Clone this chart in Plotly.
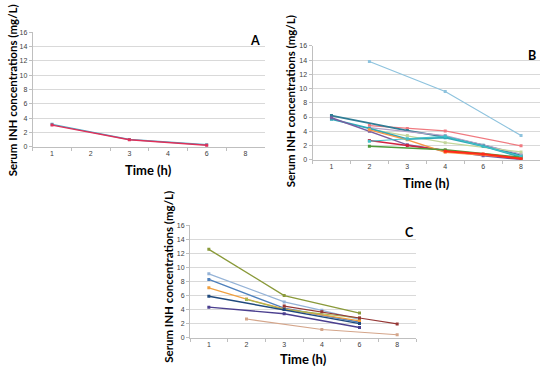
import plotly.graph_objects as go

categories = ["1", "2", "3", "4", "6", "8"]
y_ticks = [0, 2, 4, 6, 8, 10, 12, 14, 16]

# Panel A series
a_series = [
    {"name": "A1", "x": ["1", "3", "6"], "y": [3.15, 1.05, 0.3], "color": "#4bacc6", "w": 1.4},
    {"name": "A2", "x": ["1", "3", "6"], "y": [3.05, 1.0, 0.25], "color": "#e0305a", "w": 1.4},
]

# Panel B series
b_series = [
    {"name": "B1", "x": ["2", "4", "8"], "y": [13.8, 9.6, 3.4], "color": "#8ec3de", "w": 1.2},
    {"name": "B2", "x": ["2", "3", "4", "8"], "y": [4.8, 4.4, 4.05, 1.95], "color": "#f07a80", "w": 1.2},
    {"name": "B3", "x": ["1", "3", "4", "6", "8"], "y": [6.2, 4.1, 3.2, 2.05, 0.6], "color": "#2f7d95", "w": 1.8},
    {"name": "B4", "x": ["2", "4", "8"], "y": [4.5, 3.4, 0.8], "color": "#b3a2c7", "w": 1.2},
    {"name": "B5", "x": ["2", "3", "4", "8"], "y": [4.3, 3.4, 2.4, 1.1], "color": "#c3d69b", "w": 1.2},
    {"name": "B6", "x": ["1", "2", "3", "4", "6", "8"], "y": [5.7, 4.4, 2.9, 3.1, 1.9, 0.4], "color": "#31a8b8", "w": 1.8},
    {"name": "B7", "x": ["1", "2", "3", "4", "6", "8"], "y": [5.9, 4.0, 2.1, 1.3, 0.55, 0.0], "color": "#7a5ea0", "w": 1.4},
    {"name": "B8", "x": ["2", "3", "4", "8"], "y": [2.7, 2.0, 1.3, 0.1], "color": "#d02040", "w": 1.4},
    {"name": "B9", "x": ["2", "3", "4", "8"], "y": [4.2, 2.8, 1.05, 0.25], "color": "#f79646", "w": 1.4},
    {"name": "B10", "x": ["2", "4", "8"], "y": [1.9, 1.4, 0.35], "color": "#4f9a3a", "w": 1.4},
    {"name": "B11", "x": ["2", "3", "4", "8"], "y": [2.6, 2.9, 3.3, 0.5], "color": "#40c0c8", "w": 1.2},
    {"name": "B12", "x": ["4", "6", "8"], "y": [1.2, 0.8, 0.15], "color": "#ff2a1a", "w": 2.0},
]

# Panel C series
c_series = [
    {"name": "C1", "x": ["1", "3", "6"], "y": [12.6, 6.0, 3.5], "color": "#8a9a3a", "w": 1.4},
    {"name": "C2", "x": ["1", "3", "4", "6"], "y": [9.1, 5.1, 3.9, 2.6], "color": "#95b3d7", "w": 1.2},
    {"name": "C3", "x": ["1", "3", "6"], "y": [8.3, 4.2, 2.2], "color": "#4f81bd", "w": 1.4},
    {"name": "C4", "x": ["1", "2", "3", "6"], "y": [7.1, 5.5, 4.1, 2.4], "color": "#f0a040", "w": 1.2},
    {"name": "C5", "x": ["2", "3", "6"], "y": [5.45, 4.0, 2.8], "color": "#a8b850", "w": 1.2},
    {"name": "C6", "x": ["1", "3", "6"], "y": [5.9, 4.0, 2.0], "color": "#1f497d", "w": 1.4},
    {"name": "C7", "x": ["1", "3", "6"], "y": [4.35, 3.4, 1.45], "color": "#4b3f8f", "w": 1.4},
    {"name": "C8", "x": ["2", "4", "8"], "y": [2.65, 1.15, 0.42], "color": "#d4a58a", "w": 1.1},
    {"name": "C9", "x": ["3", "4", "6", "8"], "y": [4.5, 3.7, 2.8, 1.95], "color": "#953735", "w": 1.2},
]

W, H = 550, 374

def px_x(p):
    return p / W

def px_y(p):
    return (H - p) / H

panels = [
    (a_series, (32.7, 264.7), (28.7, 145.7), "A", (255, 37), 12, 88, 169),
    (b_series, (312.5, 540), (42.7, 158.7), "B", (532, 52), 290, 99, 182),
    (c_series, (190, 416), (225.7, 340), "C", (409, 233), 169, 278, 362),
]

fig = go.Figure()
annotations = []
for i, (series, xd, yd, letter, lpos, ytx, yty, xty) in enumerate(panels):
    idx = "" if i == 0 else str(i + 1)
    xa = "x" + idx
    ya = "y" + idx
    for s in series:
        fig.add_trace(go.Scatter(
            x=s["x"], y=s["y"], mode="lines+markers", name=s["name"],
            line=dict(color=s["color"], width=s["w"]),
            marker=dict(color=s["color"], size=3, symbol="square"),
            xaxis=xa, yaxis=ya, showlegend=False,
        ))
    axis_x = dict(
        domain=[px_x(xd[0]), px_x(xd[1])], anchor=ya,
        type="category", categoryorder="array", categoryarray=categories,
        range=[-0.5, 5.5], tickson="boundaries", ticks="outside", ticklen=3,
        tickcolor="#bfbfbf", showline=True, linecolor="#bfbfbf", linewidth=1,
        showgrid=False, tickfont=dict(family="Liberation Sans", size=7, color="#404040"),
        fixedrange=True,
    )
    axis_y = dict(
        domain=[px_y(yd[1]), px_y(yd[0])], anchor=xa,
        range=[0, 16], tickvals=y_ticks, ticks="outside", ticklen=3,
        tickcolor="#bfbfbf", showline=True, linecolor="#bfbfbf", linewidth=1,
        showgrid=True, gridcolor="#d9d9d9", gridwidth=1, zeroline=False,
        tickfont=dict(family="Liberation Sans", size=7, color="#404040"),
        fixedrange=True,
    )
    fig.layout["xaxis" + idx] = axis_x
    fig.layout["yaxis" + idx] = axis_y
    annotations.append(dict(
        text="<b>" + letter + "</b>", x=px_x(lpos[0]), y=px_y(lpos[1]),
        xref="paper", yref="paper", showarrow=False, xanchor="center", yanchor="middle",
        font=dict(family="Lato", size=12.5, color="#000000"),
    ))
    annotations.append(dict(
        text="<b>Serum INH concentrations (mg/L)</b>", x=px_x(ytx), y=px_y(yty),
        xref="paper", yref="paper", showarrow=False, textangle=-90,
        xanchor="center", yanchor="middle",
        font=dict(family="Lato", size=11.5, color="#000000"),
    ))
    annotations.append(dict(
        text="<b>Time (h)</b>", x=(px_x(xd[0]) + px_x(xd[1])) / 2, y=px_y(xty),
        xref="paper", yref="paper", showarrow=False, xanchor="center", yanchor="middle",
        font=dict(family="Lato", size=13, color="#000000"),
    ))

fig.update_layout(
    width=W, height=H, margin=dict(l=0, r=0, t=0, b=0),
    paper_bgcolor="white", plot_bgcolor="white",
    annotations=annotations,
)

fig.write_html("out.html", config={"displayModeBar": False},
               post_script="document.body.style.margin='0';")
